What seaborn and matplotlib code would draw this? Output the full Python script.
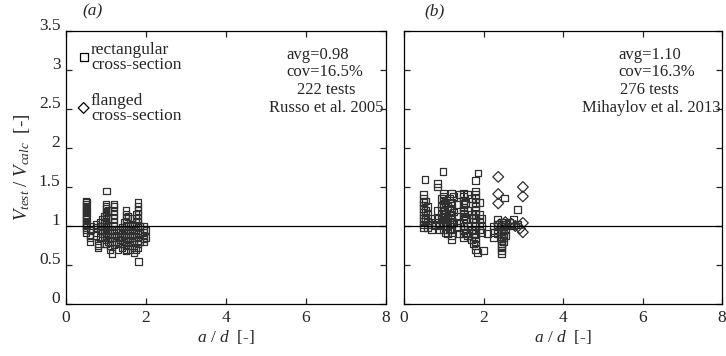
import matplotlib
matplotlib.use("Agg")
import matplotlib.pyplot as plt
from matplotlib.transforms import ScaledTranslation
import seaborn as sns
import pandas as pd

# ---- panel (a): Russo et al. 2005, rectangular sections -----------------
russo_rect_ad = (
    [0.50] * 13 + [0.52] * 4 + [0.60] * 3 + [0.62] * 2 + [0.75] * 4 + [0.80] * 3
    + [0.85] * 4 + [0.90] * 3 + [0.95] * 5 + [1.00] * 16 + [1.02] + [1.05] * 5
    + [1.10] * 4 + [1.15] + [1.20] * 12 + [1.25] * 2 + [1.30] * 4 + [1.35] * 2
    + [1.40] * 5 + [1.45] * 4 + [1.50] * 12 + [1.55] * 4 + [1.60] * 4
    + [1.65] * 5 + [1.70] * 5 + [1.75] * 5 + [1.80] * 11 + [1.82] + [1.85] * 3
    + [1.95] * 6 + [2.00] * 2
)
russo_rect_ratio = [
    1.32, 1.28, 1.25, 1.22, 1.18, 1.15, 1.12, 1.08, 1.05, 1.02, 0.98, 0.95, 0.92,
    1.30, 1.20, 1.10, 1.00,
    0.88, 0.85, 0.80,
    0.95, 1.00,
    1.02, 0.98, 0.92, 0.88,
    0.78, 0.75, 0.72,
    1.05, 1.00, 0.95, 0.85,
    1.08, 1.00, 0.90,
    1.12, 1.05, 0.95, 0.85, 0.78,
    1.28, 1.25, 1.22, 1.18, 1.15, 1.12, 1.08, 1.05, 1.02, 0.98, 0.95, 0.92,
    0.88, 0.85, 0.82, 0.78,
    1.45,
    1.20, 1.10, 1.00, 0.90, 0.80,
    0.95, 0.85, 0.75, 0.70,
    0.65,
    1.28, 1.25, 1.20, 1.15, 1.10, 1.05, 1.00, 0.95, 0.90, 0.85, 0.80, 0.76,
    0.88, 0.80,
    0.95, 0.85, 0.78, 0.70,
    0.92, 0.82,
    0.98, 0.90, 0.85, 0.78, 0.72,
    1.05, 0.95, 0.88, 0.80,
    1.20, 1.15, 1.10, 1.05, 1.00, 0.95, 0.90, 0.85, 0.80, 0.75, 0.70, 0.68,
    1.12, 1.00, 0.90, 0.82,
    0.95, 0.85, 0.75, 0.70,
    1.10, 1.02, 0.95, 0.88, 0.80,
    1.00, 0.90, 0.80, 0.72, 0.66,
    1.15, 1.05, 0.95, 0.85, 0.70,
    1.30, 1.25, 1.20, 1.15, 1.10, 1.05, 0.98, 0.92, 0.85, 0.78, 0.72,
    0.55,
    1.00, 0.90, 0.80,
    1.00, 0.96, 0.92, 0.88, 0.84, 0.80,
    0.95, 0.85,
]

# ---- panel (b): Mihaylov et al. 2013 -------------------------------------
mihaylov_rect_ad = (
    [0.50] * 11 + [0.53] + [0.55] * 3 + [0.60] * 4 + [0.70] * 3 + [0.80] * 2
    + [0.85] * 4 + [0.90] * 2 + [0.95] * 4 + [0.98] + [1.00] * 12 + [1.05] * 4
    + [1.10] * 4 + [1.15] * 4 + [1.20] * 9 + [1.25] * 3 + [1.35] * 3
    + [1.40] * 3 + [1.50] * 14 + [1.55] * 3 + [1.60] * 4 + [1.70] * 4
    + [1.75] * 3 + [1.79] + [1.80] * 16 + [1.84] + [1.86] + [1.90] * 4
    + [1.95] * 3 + [2.00] + [2.10] + [2.25] * 3 + [2.35] * 4 + [2.45] * 14
    + [2.50] * 6 + [2.52] + [2.55] * 3 + [2.65] * 2 + [2.75] * 2 + [2.85] * 2
)
mihaylov_rect_ratio = [
    1.40, 1.35, 1.30, 1.26, 1.22, 1.18, 1.14, 1.10, 1.06, 1.02, 0.98,
    1.60,
    1.32, 1.20, 1.08,
    1.25, 1.15, 1.05, 0.98,
    1.10, 1.02, 0.96,
    1.05, 1.00,
    1.55, 1.50, 1.20, 1.10,
    1.02, 0.95,
    1.35, 1.25, 1.15, 1.08,
    1.70,
    1.42, 1.38, 1.32, 1.28, 1.24, 1.20, 1.16, 1.12, 1.08, 1.04, 1.00, 0.96,
    1.30, 1.15, 1.05, 0.92,
    1.25, 1.10, 1.00, 0.90,
    1.35, 1.20, 1.05, 0.95,
    1.42, 1.30, 1.22, 1.15, 1.08, 1.02, 0.96, 0.88, 0.83,
    1.38, 1.18, 1.05,
    1.28, 1.12, 0.98,
    1.40, 1.05, 0.90,
    1.42, 1.38, 1.32, 1.28, 1.24, 1.20, 1.16, 1.12, 1.08, 1.04, 1.00, 0.96,
    0.90, 0.85,
    1.30, 1.10, 0.92,
    1.40, 1.20, 1.00, 0.88,
    1.35, 1.15, 0.95, 0.82,
    1.10, 0.90, 0.78,
    1.58,
    1.45, 1.40, 1.35, 1.30, 1.25, 1.20, 1.15, 1.10, 1.05, 1.00, 0.95, 0.90,
    0.85, 0.80, 0.75, 0.70,
    0.66,
    1.68,
    1.30, 1.15, 1.05, 0.95,
    1.10, 1.00, 0.92,
    0.69,
    0.90,
    1.00, 0.92, 0.85,
    1.08, 1.02, 0.96, 0.90,
    1.05, 1.02, 0.99, 0.96, 0.93, 0.90, 0.87, 0.84, 0.81, 0.78, 0.75, 0.72,
    0.69, 0.65,
    1.05, 1.00, 0.95, 0.90, 0.85, 0.80,
    1.36,
    1.02, 0.95, 0.88,
    1.05, 1.00,
    1.08, 1.00,
    1.21, 1.02,
]
mihaylov_flange_ad = [2.37, 2.37, 2.37, 2.99, 2.99, 2.40, 2.55, 2.70, 2.80,
                      2.92, 2.99, 2.99]
mihaylov_flange_ratio = [1.63, 1.41, 1.29, 1.50, 1.38, 1.02, 1.05, 1.03, 1.00,
                         0.97, 1.04, 0.92]

x_ticks = [0, 2, 4, 6, 8]
y_ticks = [0, 0.5, 1, 1.5, 2, 2.5, 3, 3.5]
y_tick_labels = ["0", "0.5", "1", "1.5", "2", "2.5", "3", "3.5"]

sns.set_style("ticks")
plt.rcParams["font.family"] = ["Liberation Serif", "DejaVu Serif"]
plt.rcParams["mathtext.fontset"] = "custom"
plt.rcParams["mathtext.rm"] = "Liberation Serif"
plt.rcParams["mathtext.it"] = "Liberation Serif:italic"

EDGE = "#303030"
fig = plt.figure(figsize=(7.26, 3.56), dpi=100)
ax_a = fig.add_axes([0.0909, 0.146, 0.4408, 0.767])
ax_b = fig.add_axes([0.5565, 0.146, 0.4380, 0.767])

df_a = pd.DataFrame({"ad": russo_rect_ad, "ratio": russo_rect_ratio})
df_b = pd.DataFrame({"ad": mihaylov_rect_ad, "ratio": mihaylov_rect_ratio})
df_bf = pd.DataFrame({"ad": mihaylov_flange_ad, "ratio": mihaylov_flange_ratio})

sq_kw = dict(marker="s", s=24, facecolor="none", edgecolor=EDGE, linewidth=0.9)
dm_kw = dict(marker="D", s=30, facecolor="none", edgecolor=EDGE, linewidth=0.9)

sns.scatterplot(data=df_a, x="ad", y="ratio", ax=ax_a, **sq_kw)
sns.scatterplot(data=df_b, x="ad", y="ratio", ax=ax_b, **sq_kw)
sns.scatterplot(data=df_bf, x="ad", y="ratio", ax=ax_b, **dm_kw)

for ax in (ax_a, ax_b):
    ax.axhline(1.0, color="black", linewidth=0.9, zorder=1)
    ax.set_xlim(0, 8)
    ax.set_ylim(0, 3.5)
    ax.set_xticks(x_ticks)
    ax.set_xticklabels([str(t) for t in x_ticks])
    ax.tick_params(direction="in", top=True, right=True, length=4,
                   width=0.9, labelsize=12.5, pad=4)
    for sp in ax.spines.values():
        sp.set_linewidth(0.9)
        sp.set_color("black")
    ax.set_xlabel("$a$ / $d$  [-]", fontsize=12.5, labelpad=2)

ax_a.set_yticks(y_ticks)
ax_a.set_yticklabels(y_tick_labels)
# y tick labels sit a few pixels above their ticks
lift = ScaledTranslation(0, 5 / 72, fig.dpi_scale_trans)
for lab in ax_a.get_yticklabels():
    lab.set_transform(lab.get_transform() + lift)
ax_a.set_ylabel("$V_{test}$ / $V_{calc}$  [-]", fontsize=13.5, labelpad=5)
ax_b.set_yticks(y_ticks)
ax_b.set_yticklabels([])
ax_b.set_ylabel("")

# legend entries in panel (a)
ax_a.scatter([0.055], [0.905], transform=ax_a.transAxes, marker="s", s=34,
             facecolor="none", edgecolor="black", linewidth=0.9)
ax_a.text(0.078, 0.903, "rectangular\ncross-section", transform=ax_a.transAxes,
          fontsize=12.5, va="center", ha="left", linespacing=0.9)
ax_a.scatter([0.055], [0.718], transform=ax_a.transAxes, marker="D", s=30,
             facecolor="none", edgecolor="black", linewidth=0.9)
ax_a.text(0.078, 0.716, "flanged\ncross-section", transform=ax_a.transAxes,
          fontsize=12.5, va="center", ha="left", linespacing=0.9)

# statistics
stats_a = [("avg=0.98", 0.690, 0.912, "left"), ("cov=16.5%", 0.690, 0.850, "left"),
           ("222 tests", 0.722, 0.784, "left"),
           ("Russo et al. 2005", 0.992, 0.718, "right")]
stats_b = [("avg=1.10", 0.673, 0.912, "left"), ("cov=16.3%", 0.673, 0.850, "left"),
           ("276 tests", 0.679, 0.784, "left"),
           ("Mihaylov et al. 2013", 0.995, 0.718, "right")]
for ax, lines in ((ax_a, stats_a), (ax_b, stats_b)):
    for txt, xa, ya, ha in lines:
        ax.text(xa, ya, txt, transform=ax.transAxes, fontsize=12,
                ha=ha, va="center")

ax_a.text(0.05, 1.07, "(a)", transform=ax_a.transAxes, fontsize=12.5,
          style="italic", va="center", ha="left")
ax_b.text(0.063, 1.07, "(b)", transform=ax_b.transAxes, fontsize=12.5,
          style="italic", va="center", ha="left")

fig.savefig("out.png", dpi=100)
